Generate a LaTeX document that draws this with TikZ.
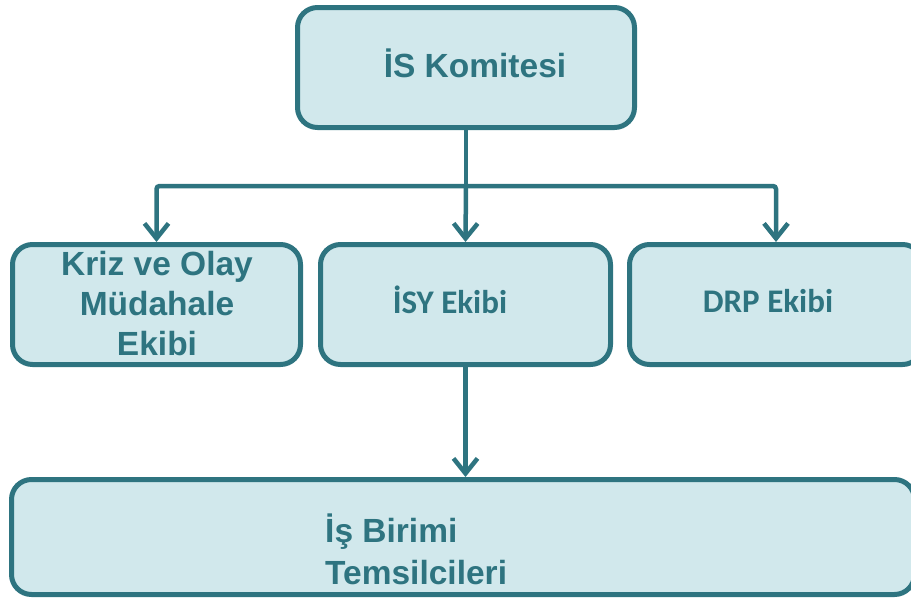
\documentclass[tikz,border=0pt]{standalone}
\usepackage{fontspec}
\setmainfont{Liberation Sans}
\newfontfamily\carlito{Carlito}
\usetikzlibrary{arrows.meta}
\definecolor{tealc}{RGB}{46,116,128}
\definecolor{boxfill}{RGB}{209,232,236}
\begin{document}
\begin{tikzpicture}[x=1pt,y=-1pt,
  box/.style={draw=tealc,fill=boxfill,line width=5pt,rounded corners=20pt,
    rectangle,inner sep=0pt,minimum height=120pt},
  txt/.style={text=tealc,font=\fontsize{33.5}{40}\selectfont\bfseries,inner sep=0pt},
  ctxt/.style={text=tealc,font=\fontsize{33}{40}\selectfont\carlito\bfseries,inner sep=0pt},
  conn/.style={draw=tealc,line width=4.5pt},
  arr/.style={conn,-{Straight Barb[length=15pt,width=24pt]}}]
\useasboundingbox (0,0) rectangle (911,600);
\clip (0,0) rectangle (911,600);
% boxes
\node[box,minimum width=337pt] (top) at (466,67.5) {};
\node[box,minimum width=288pt] (kriz) at (156.5,304.5) {};
\node[box,minimum width=290pt] (isy) at (465.5,304.5) {};
\node[box,minimum width=293pt] (drp) at (776,304.5) {};
\node[box,minimum width=903pt,minimum height=115pt] (bot) at (463,537) {};
% texts
\node[txt,anchor=base] (ttop) at (475,77) {İS Komitesi};
\node[txt,anchor=base,align=center] (tkriz) at (157,355) {Kriz ve Olay\\Müdahale\\Ekibi};
\node[ctxt,anchor=base] (tisy) at (450,313) {İSY Ekibi};
\node[ctxt,anchor=base] (tdrp) at (768,312) {DRP Ekibi};
\node[txt,anchor=base west,align=left] (tbot) at (325,584) {İş Birimi\\[2pt] Temsilcileri};
% connectors
\coordinate (j) at (466,186);
\draw[conn] (top.south) -- (j);
\draw[arr] (j) -- (isy.north);
\draw[arr,rounded corners=3pt] (j) -| (kriz.north);
\draw[arr,rounded corners=3pt] (j) -| (drp.north);
\draw[arr] (isy.south) -- (isy.south |- bot.north);
\end{tikzpicture}
\end{document}
